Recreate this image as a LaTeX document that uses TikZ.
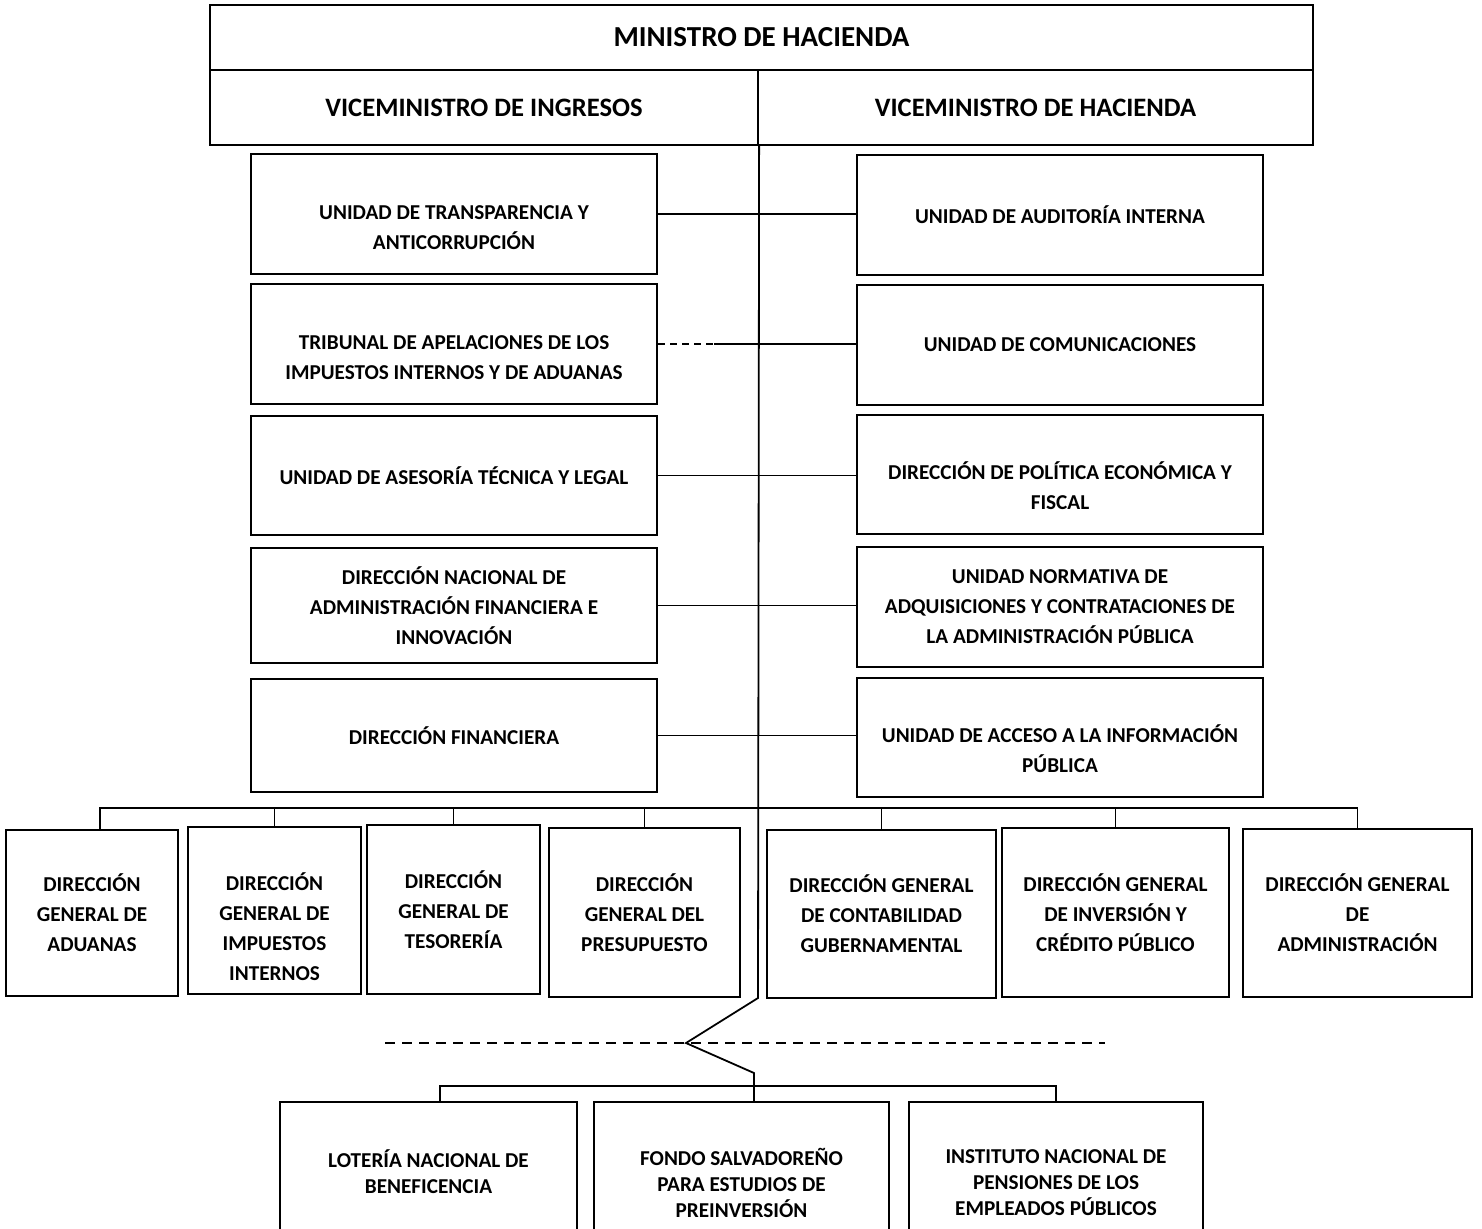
\documentclass[tikz,border=0pt]{standalone}
\usepackage{fontspec}
\setmainfont{Carlito}

\begin{document}
\begin{tikzpicture}[
  x=0.5pt, y=-0.5pt,
  b/.style={draw, line width=1.1pt, align=center, inner sep=0pt,
    font=\bfseries\fontsize{10.6}{15}\selectfont},
  t/.style={b, font=\bfseries\fontsize{13.3}{16}\selectfont, minimum height=37.5pt},
  m/.style={b, minimum width=203pt},
  s/.style={b, font=\bfseries\fontsize{10.6}{13}\selectfont, minimum height=81pt},
  low/.style={text height=35.3pt, text depth=0pt},
  e/.style={line width=0.9pt}
]
\useasboundingbox (0,0) rectangle (1482,1228);

\node[t, minimum width=551.5pt, minimum height=32.5pt, font=\bfseries\fontsize{14.5}{16}\selectfont] (min) at (761.5,37.5) {MINISTRO DE HACIENDA};
\node[t, minimum width=274pt] (vi) at (484,107.5) {VICEMINISTRO DE INGRESOS};
\node[t, minimum width=277.5pt] (vh) at (1035.5,107.5) {VICEMINISTRO DE HACIENDA};

\node[m, low, minimum height=60pt] (transp) at (454,214) {UNIDAD DE TRANSPARENCIA Y\\ANTICORRUPCIÓN};
\node[m, low, minimum height=60pt] (tribunal) at (454,344) {TRIBUNAL DE APELACIONES DE LOS\\IMPUESTOS INTERNOS Y DE ADUANAS};
\node[m, minimum height=59.5pt] (asesoria) at (454,475.5) {UNIDAD DE ASESORÍA TÉCNICA Y LEGAL};
\node[m, minimum height=57.5pt] (dinafi) at (454,605.5) {DIRECCIÓN NACIONAL DE\\ADMINISTRACIÓN FINANCIERA E\\INNOVACIÓN};
\node[m, minimum height=56.5pt] (financiera) at (454,735.5) {DIRECCIÓN FINANCIERA};

\node[m, minimum height=60pt] (auditoria) at (1060,215) {UNIDAD DE AUDITORÍA INTERNA};
\node[m, minimum height=60pt] (comunic) at (1060,345) {UNIDAD DE COMUNICACIONES};
\node[m, low, minimum height=59.5pt] (politica) at (1060,474.5) {DIRECCIÓN DE POLÍTICA ECONÓMICA Y\\FISCAL};
\node[m, minimum height=60pt] (unac) at (1060,607) {UNIDAD NORMATIVA DE\\ADQUISICIONES Y CONTRATACIONES DE\\LA ADMINISTRACIÓN PÚBLICA};
\node[m, low, minimum height=59.5pt] (acceso) at (1060,737.5) {UNIDAD DE ACCESO A LA INFORMACIÓN\\PÚBLICA};

\node[b, minimum width=86pt, minimum height=83pt] (aduanas) at (92,913) {DIRECCIÓN\\GENERAL DE\\ADUANAS};
\node[b, minimum width=86.5pt, minimum height=83.5pt, text height=70.3pt, text depth=0pt] (impuestos) at (274.5,910.5) {DIRECCIÓN\\GENERAL DE\\IMPUESTOS\\INTERNOS};
\node[b, minimum width=86.5pt, minimum height=84.5pt] (tesoreria) at (453.5,909.5) {DIRECCIÓN\\GENERAL DE\\TESORERÍA};
\node[b, minimum width=95.5pt, minimum height=84.5pt] (presupuesto) at (644.5,912.5) {DIRECCIÓN\\GENERAL DEL\\PRESUPUESTO};
\node[b, minimum width=114.5pt, minimum height=84pt] (contabilidad) at (881.5,914) {DIRECCIÓN GENERAL\\DE CONTABILIDAD\\GUBERNAMENTAL};
\node[b, minimum width=113.5pt, minimum height=84.5pt] (inversion) at (1115.5,912.5) {DIRECCIÓN GENERAL\\DE INVERSIÓN Y\\CRÉDITO PÚBLICO};
\node[b, minimum width=114.5pt, minimum height=84pt] (administracion) at (1357.5,913) {DIRECCIÓN GENERAL\\DE\\ADMINISTRACIÓN};

\node[s, minimum width=148.5pt, minimum height=70pt] (loteria) at (428.5,1172) {LOTERÍA NACIONAL DE\\BENEFICENCIA};
\node[s, minimum width=147.5pt] (fondo) at (741.5,1183) {FONDO SALVADOREÑO\\PARA ESTUDIOS DE\\PREINVERSIÓN};
\node[s, minimum width=147pt] (inpep) at (1056,1183) {INSTITUTO NACIONAL DE\\PENSIONES DE LOS\\EMPLEADOS PÚBLICOS};

\coordinate (tdash) at ([xshift=28pt]tribunal.east);
\coordinate (bus) at (758,808);
\coordinate (bend) at (758,998);
\coordinate (zig) at (686,1043);
\coordinate (zag) at (754,1073);
\coordinate (lowbus) at (754,1086);
\coordinate (dashL) at (385,1043);
\coordinate (dashR) at (1105,1043);

\draw[e] (transp.east) -- (transp.east -| auditoria.west);
\draw[e, dash pattern=on 3.5pt off 2.5pt] (tribunal.east) -- (tdash);
\draw[e] (tdash) -- (tdash -| comunic.west);
\draw[e] (asesoria.east) -- (asesoria.east -| politica.west);
\draw[e] (dinafi.east) -- (dinafi.east -| unac.west);
\draw[e] (financiera.east) -- (financiera.east -| acceso.west);

\draw[e] (vi.south east) -- (bend) -- (zig) -- (zag) -- (zag |- fondo.north);
\draw[e] ([xshift=4pt]aduanas.north) |- (bus) -| (administracion.north);
\foreach \n in {impuestos,tesoreria,presupuesto,contabilidad,inversion}
  \draw[e] (\n.north) -- (\n.north |- bus);
\draw[e] ([xshift=5.75pt]loteria.north) |- (lowbus) -| (inpep.north);
\draw[e, dash pattern=on 5pt off 3.5pt] (dashL) -- (dashR);
\end{tikzpicture}
\end{document}
